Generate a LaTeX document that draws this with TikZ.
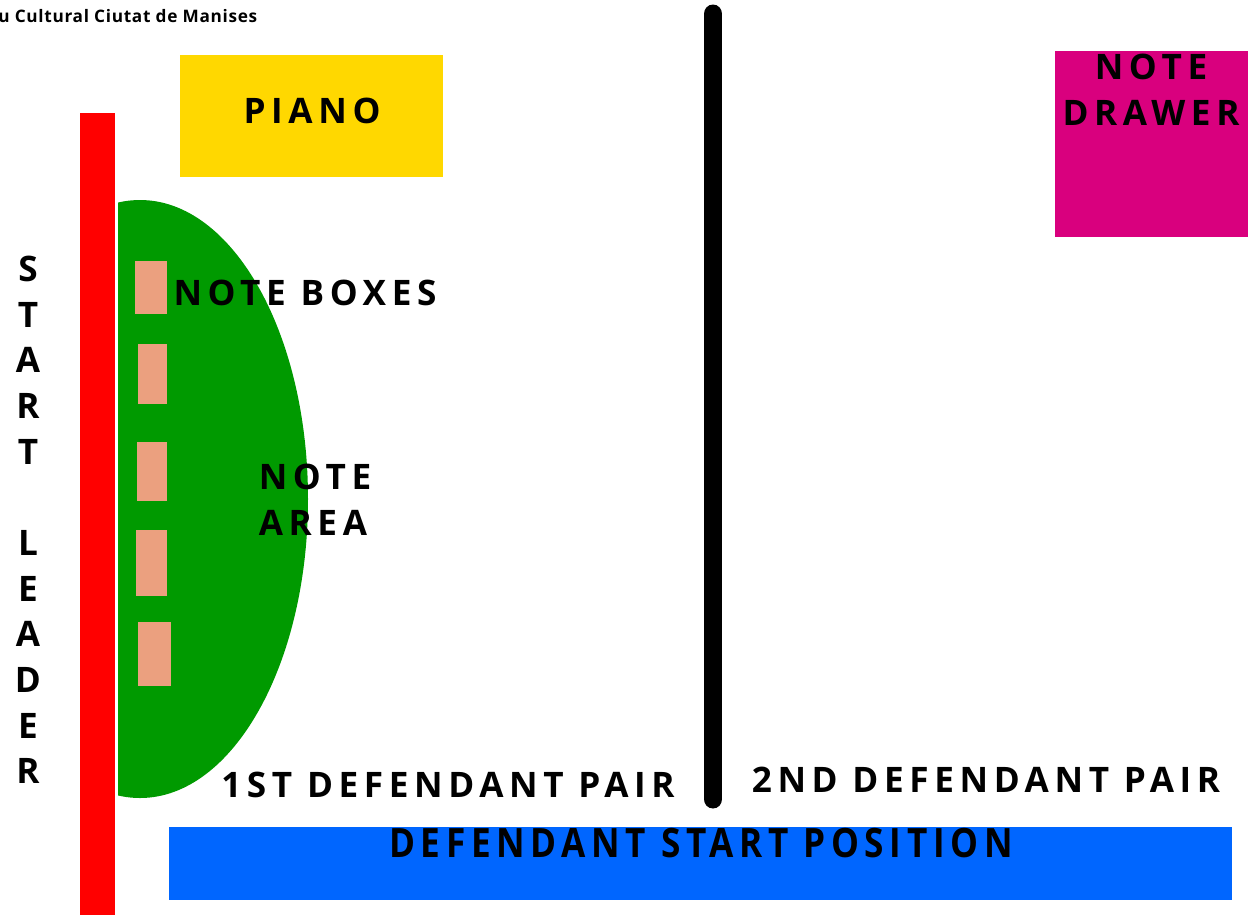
\documentclass[tikz,border=0pt]{standalone}
\usepackage{fontspec}
\setmainfont{Open Sans}
\newfontfamily\planfont[LetterSpace=16]{Open Sans}
\newfontfamily\venuefont[LetterSpace=4]{Open Sans}
\newfontfamily\barfont[FakeStretch=0.87,LetterSpace=14]{Open Sans}
\definecolor{leaderred}{HTML}{FF0000}
\definecolor{pianoyellow}{HTML}{FFD800}
\definecolor{drawerpink}{HTML}{D9007E}
\definecolor{areagreen}{HTML}{009A00}
\definecolor{boxsalmon}{HTML}{EBA07F}
\definecolor{startblue}{HTML}{0066FF}
\tikzset{
  lbl/.style={font=\planfont\bfseries\fontsize{20}{26}\selectfont, inner sep=0pt},
  notebox/.style={fill=boxsalmon}
}
\begin{document}
\begin{tikzpicture}[x=0.02cm, y=-0.02cm]
    \useasboundingbox (0,0) rectangle (1252,921);
    \node[anchor=west, inner sep=0pt, font=\venuefont\bfseries\fontsize{9.8}{12}\selectfont] (venue) at (-2,16) {u Cultural Ciutat de Manises};
    % room furniture
    \fill[leaderred] (80,113) rectangle (115,915);
    \fill[pianoyellow] (180,55) rectangle (443,177);
    \fill[drawerpink] (1055,51) rectangle (1248,237);
    \begin{scope}
        \clip (118,190) rectangle (330,810);
        \fill[areagreen] (140,499) ellipse (168 and 299);
    \end{scope}
    \fill[notebox] (135,261) rectangle (167,314);
    \fill[notebox] (138,344) rectangle (167,404);
    \fill[notebox] (137,442) rectangle (167,501);
    \fill[notebox] (136,530) rectangle (167,596);
    \fill[notebox] (138,622) rectangle (171,686);
    \draw[line width=10.8pt, line cap=round] (713,14) -- (713,799);
    \fill[startblue] (169,827) rectangle (1232,900);
    % labels
    \node[lbl] (piano) at (312,111) {PIANO};
    \node[lbl, align=center] (drawer) at (1151,90) {NOTE\\DRAWER};
    \node[lbl] (boxes) at (305,293) {NOTE BOXES};
    \node[lbl, align=left] (area) at (315,500) {NOTE\\AREA};
    \node[lbl] (pair1) at (448,785) {1ST DEFENDANT PAIR};
    \node[lbl] (pair2) at (986,780) {2ND DEFENDANT PAIR};
    \node[lbl, align=center] (leader) at (28,520) {S\\T\\A\\R\\T\\ \\L\\E\\A\\D\\E\\R};
    \node[inner sep=0pt, font=\barfont\bfseries\fontsize{23}{24}\selectfont] (start) at (701,843) {DEFENDANT START POSITION};
\end{tikzpicture}
\end{document}
